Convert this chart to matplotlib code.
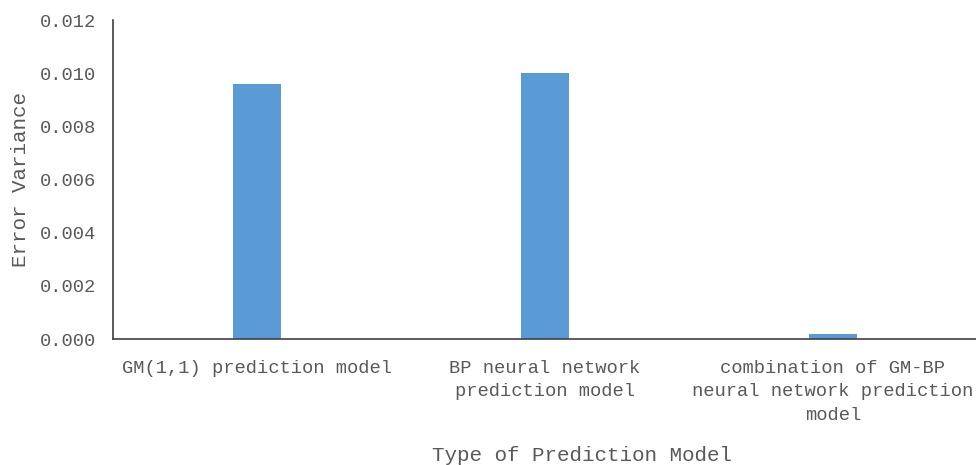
import numpy as np
import matplotlib.pyplot as plt

models = ["GM(1,1) prediction model",
          "BP neural network\nprediction model",
          "combination of GM-BP\nneural network prediction\nmodel"]
variance = [0.00959, 0.01000, 0.00018]
yticks = [0.000, 0.002, 0.004, 0.006, 0.008, 0.010, 0.012]

plt.rcParams['font.family'] = ['Liberation Mono', 'DejaVu Sans Mono']

fig = plt.figure(figsize=(9.76, 4.65), dpi=100)
ax = fig.add_axes([113 / 976, 1 - 339 / 465, 864 / 976, 319 / 465])

x = np.arange(len(models))
ax.bar(x, variance, width=0.167, color="#5B9BD5")

ax.set_xlim(-0.5, 2.5)
ax.set_ylim(0, 0.012)
ax.set_yticks(yticks)
ax.set_yticklabels([f"{v:.3f}" for v in yticks])
ax.set_xticks(x)
ax.set_xticklabels(models, linespacing=1.5)
ax.tick_params(axis="both", length=0, labelsize=13.5, colors="#595959", pad=12)
ax.tick_params(axis="x", pad=15)

for s in ["top", "right"]:
    ax.spines[s].set_visible(False)
for s in ["left", "bottom"]:
    ax.spines[s].set_color("#404040")
    ax.spines[s].set_linewidth(1.2)

ax.set_ylabel("Error Variance", fontsize=15, color="#595959")
ax.yaxis.set_label_coords(-83 / 864, 0.5)
fig.text(582 / 976, 1 - 455 / 465, "Type of Prediction Model", fontsize=15,
         color="#595959", ha="center", va="center")

fig.savefig("out.png", dpi=100)
